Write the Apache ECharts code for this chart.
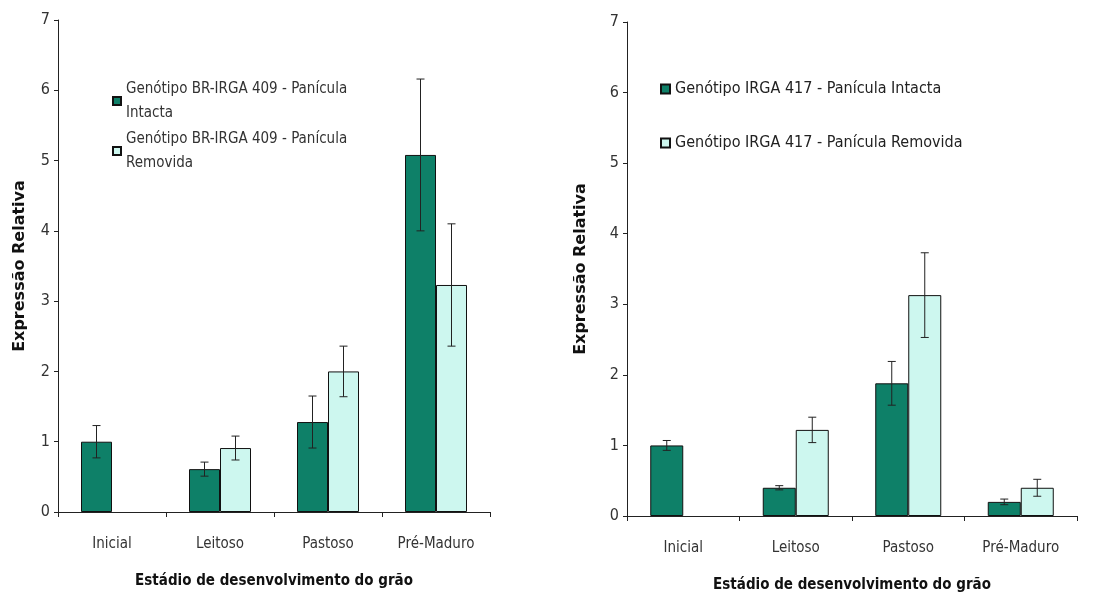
<!DOCTYPE html>
<html>
<head>
<meta charset="utf-8">
<script src="https://cdn.jsdelivr.net/npm/echarts@6/dist/echarts.min.js"></script>
<style>
html,body{margin:0;padding:0;background:#fff;}
#c{width:1114px;height:598px;}
</style>
</head>
<body>
<div id="c"></div>
<script>
var categories = ['Inicial', 'Leitoso', 'Pastoso', 'Pré-Maduro'];
var yTicks = [0, 1, 2, 3, 4, 5, 6, 7];

var leftIntacta = [1.0, 0.61, 1.28, 5.08];
var leftIntactaErr = [0.23, 0.10, 0.37, 1.08];
var leftRemovida = [null, 0.91, 2.0, 3.23];
var leftRemovidaErr = [null, 0.17, 0.36, 0.87];

var rightIntacta = [1.0, 0.40, 1.88, 0.20];
var rightIntactaErr = [0.07, 0.03, 0.31, 0.04];
var rightRemovida = [null, 1.22, 3.13, 0.40];
var rightRemovidaErr = [null, 0.18, 0.60, 0.12];

var nameLI = 'Genótipo BR-IRGA 409 - Panícula\nIntacta';
var nameLR = 'Genótipo BR-IRGA 409 - Panícula\nRemovida';
var nameRI = 'Genótipo IRGA 417 - Panícula Intacta';
var nameRR = 'Genótipo IRGA 417 - Panícula Removida';

var DARK = '#0e8068';
var LIGHT = '#cdf7ef';
var NARROW = "'Liberation Sans Narrow','DejaVu Sans Condensed','Arial Narrow',sans-serif";

function errData(vals, errs) {
  var out = [];
  for (var i = 0; i < vals.length; i++) {
    if (vals[i] != null && errs[i] != null) out.push([i, vals[i], errs[i]]);
  }
  return out;
}

function errRender(offset) {
  return function (params, api) {
    var x = api.value(0), v = api.value(1), e = api.value(2);
    var hi = api.coord([x, v + e]);
    var lo = api.coord([x, v - e]);
    var cx = hi[0] + offset;
    var st = { stroke: '#222', lineWidth: 1 };
    return {
      type: 'group',
      children: [
        { type: 'line', shape: { x1: cx, y1: hi[1], x2: cx, y2: lo[1] }, style: st },
        { type: 'line', shape: { x1: cx - 4, y1: hi[1], x2: cx + 4, y2: hi[1] }, style: st },
        { type: 'line', shape: { x1: cx - 4, y1: lo[1], x2: cx + 4, y2: lo[1] }, style: st }
      ]
    };
  };
}

function xAxis(gi, labelMargin, nameGap) {
  return {
    type: 'category', gridIndex: gi, data: categories,
    axisLine: { lineStyle: { color: '#222', width: 1 } },
    axisTick: { show: true, length: 5, lineStyle: { color: '#222' } },
    axisLabel: { color: '#333', fontSize: 15, fontFamily: NARROW, margin: labelMargin },
    name: 'Estádio de desenvolvimento do grão',
    nameLocation: 'middle', nameGap: nameGap,
    nameTextStyle: { color: '#111', fontSize: 15, fontWeight: 'bold', fontFamily: NARROW }
  };
}

function yAxis(gi, nameGap) {
  return {
    type: 'value', gridIndex: gi, min: yTicks[0], max: yTicks[yTicks.length - 1], interval: 1,
    splitLine: { show: false },
    axisLine: { show: true, lineStyle: { color: '#222', width: 1 } },
    axisTick: { show: true, length: 4, lineStyle: { color: '#222' } },
    axisLabel: { color: '#333', fontSize: 16, fontFamily: NARROW, margin: 8 },
    name: 'Expressão Relativa', nameLocation: 'middle', nameRotate: 90, nameGap: nameGap,
    nameTextStyle: { color: '#111', fontSize: 16, fontWeight: 'bold', fontFamily: "'DejaVu Sans',sans-serif" }
  };
}

function bar(name, data, color, xi, bw) {
  return {
    type: 'bar', name: name, data: data, xAxisIndex: xi, yAxisIndex: xi,
    barWidth: bw, barGap: '0%',
    itemStyle: { color: color, borderColor: '#111', borderWidth: 1 }
  };
}

function err(data, xi, offset) {
  return {
    type: 'custom', xAxisIndex: xi, yAxisIndex: xi, data: data, z: 10,
    renderItem: errRender(offset), encode: { x: 0, y: 1 }, silent: true
  };
}

var chart = echarts.init(document.getElementById('c'), null, { renderer: 'canvas' });
chart.setOption({
  animation: false,
  backgroundColor: '#fff',
  grid: [
    { left: 58, top: 20, width: 432, height: 492 },
    { left: 627, top: 22, width: 450, height: 495 }
  ],
  legend: [
    {
      data: [nameLI, nameLR], orient: 'vertical', left: 107, top: 72,
      icon: 'rect', itemWidth: 8, itemHeight: 8, itemGap: 2,
      textStyle: { color: '#333', fontSize: 15, fontFamily: NARROW, lineHeight: 24 }
    },
    {
      data: [nameRI, nameRR], orient: 'vertical', left: 655, top: 76,
      icon: 'rect', itemWidth: 9, itemHeight: 9, itemGap: 38,
      textStyle: { color: '#222', fontSize: 16, fontFamily: NARROW }
    }
  ],
  xAxis: [xAxis(0, 25, 62), xAxis(1, 25, 62)],
  yAxis: [yAxis(0, 30), yAxis(1, 38)],
  series: [
    bar(nameLI, leftIntacta, DARK, 0, 31),
    bar(nameLR, leftRemovida, LIGHT, 0, 31),
    bar(nameRI, rightIntacta, DARK, 1, 33),
    bar(nameRR, rightRemovida, LIGHT, 1, 33),
    err(errData(leftIntacta, leftIntactaErr), 0, -15.5),
    err(errData(leftRemovida, leftRemovidaErr), 0, 15.5),
    err(errData(rightIntacta, rightIntactaErr), 1, -16.5),
    err(errData(rightRemovida, rightRemovidaErr), 1, 16.5)
  ]
});
</script>
</body>
</html>
